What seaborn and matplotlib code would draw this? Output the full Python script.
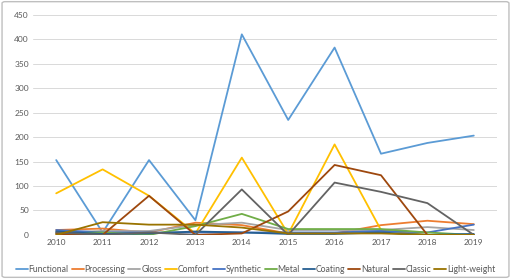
import numpy as np
import pandas as pd
import seaborn as sns
import matplotlib.pyplot as plt
from matplotlib.patches import FancyBboxPatch

years = [2010, 2011, 2012, 2013, 2014, 2015, 2016, 2017, 2018, 2019]

functional = [153, 5, 153, 30, 410, 235, 383, 166, 188, 203]
processing = [10, 13, 5, 25, 20, 3, 3, 20, 29, 22]
gloss = [5, 8, 8, 20, 25, 10, 10, 10, 16, 10]
comfort = [85, 134, 80, 3, 158, 2, 185, 10, 0, 0]
synthetic = [10, 5, 5, 5, 5, 5, 5, 8, 5, 21]
metal = [3, 5, 0, 18, 43, 12, 12, 12, 5, 0]
coating = [7, 2, 3, 7, 5, 2, 2, 5, 0, 2]
natural = [2, 0, 80, 0, 3, 48, 143, 122, 0, 0]
classic = [5, 0, 5, 0, 93, 0, 107, 88, 65, 0]
light_weight = [0, 26, 21, 21, 15, 3, 3, 3, 0, 0]

series = ["Functional", "Processing", "Gloss", "Comfort", "Synthetic",
          "Metal", "Coating", "Natural", "Classic", "Light-weight"]
colors = ["#5B9BD5", "#ED7D31", "#A5A5A5", "#FFC000", "#4472C4",
          "#70AD47", "#255E91", "#9E480E", "#636363", "#997300"]

values = [functional, processing, gloss, comfort, synthetic,
          metal, coating, natural, classic, light_weight]
df = pd.DataFrame({
    "year": np.tile(years, len(series)),
    "count": np.concatenate(values),
    "series": np.repeat(series, len(years)),
})

sns.set_style("white")
plt.rcParams['font.family'] = ['Lato', 'DejaVu Sans']

fig = plt.figure(figsize=(5.11, 2.79), dpi=100)
ax = fig.add_axes([0.0646, 0.158, 0.908, 0.789])

sns.lineplot(data=df, x="year", y="count", hue="series", hue_order=series,
             palette=colors, linewidth=1.3, ax=ax, legend=True)

ax.set_xlim(2009.5, 2019.5)
ax.set_ylim(0, 450)
ax.set_xticks(years)
ax.set_xticklabels([str(y) for y in years])
ax.set_yticks(range(0, 451, 50))
ax.tick_params(axis="both", labelsize=6, colors="#595959", length=0, pad=3)
ax.grid(axis="y", color="#D9D9D9", linewidth=0.7)
ax.set_axisbelow(True)
for s in ax.spines.values():
    s.set_visible(False)
ax.set_xlabel("")
ax.set_ylabel("")

handles, labels = ax.get_legend_handles_labels()
ax.legend_.remove()
fig.legend(handles, labels, loc="center", bbox_to_anchor=(0.5, 0.035),
           ncol=10, frameon=False, fontsize=6.2, handlelength=1.4,
           handletextpad=0.1, columnspacing=0.35, borderpad=0.1,
           labelcolor="#595959")

border = FancyBboxPatch((0.004, 0.006), 0.992, 0.988, boxstyle="round,pad=0,rounding_size=0.006",
                        transform=fig.transFigure, fill=False, edgecolor="#BFBFBF", linewidth=1.0)
fig.patches.append(border)

fig.savefig("out.png", dpi=100)
